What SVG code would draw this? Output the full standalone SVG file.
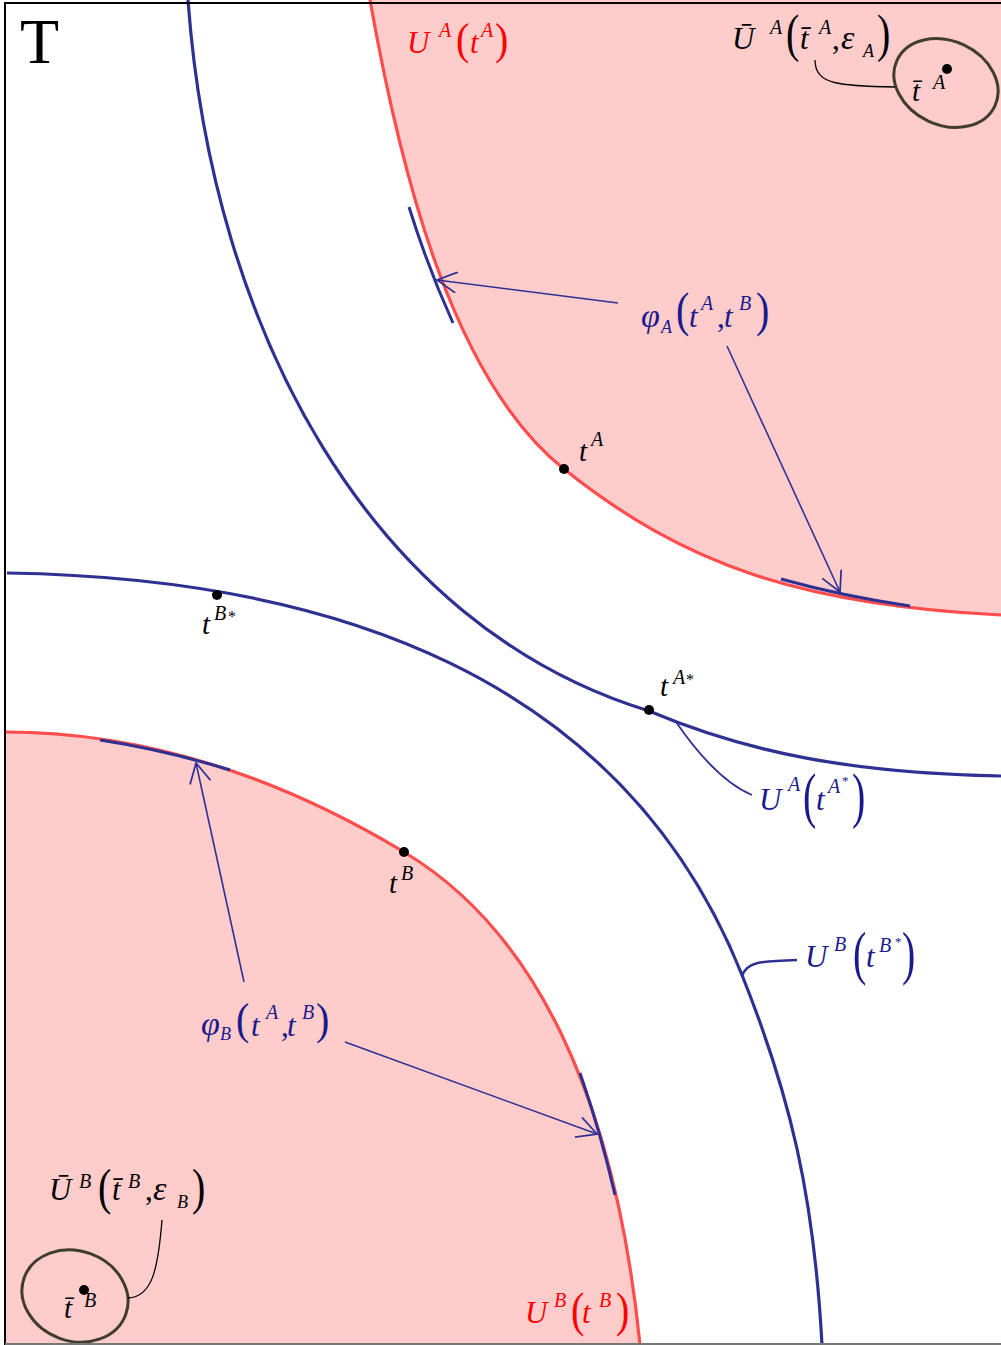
<svg xmlns="http://www.w3.org/2000/svg" width="1001" height="1345" viewBox="0 0 1001 1345">
<defs>
<style>
.m{font-family:"Liberation Serif","Times New Roman",serif;font-style:italic;font-size:31px}
.s{font-family:"Liberation Serif","Times New Roman",serif;font-style:italic;font-size:29px}
.sup{font-size:20px}
.sub{font-size:18px}
.gr{font-size:34px}
.up{font-style:normal}
.ast{font-style:normal;font-size:16px}
.par{font-family:"Liberation Serif","Times New Roman",serif;font-style:normal;font-size:40px}
.red{fill:#ff0000}
.blu{fill:#1a1a8c}
.blk{fill:#000}
.fillp{fill:#ffcccc;stroke:none}
.redc{fill:none;stroke:#ff4d4d;stroke-width:3.2}
.bluc{fill:none;stroke:#2e3192;stroke-width:3.2}
.tan{fill:none;stroke:#2e3192;stroke-width:3}
.arr{fill:none;stroke:#2e3192;stroke-width:1.6;marker-end:url(#oa)}
.lead{fill:none;stroke:#2e3192;stroke-width:1.8}
.leadk{fill:none;stroke:#000;stroke-width:1.3}
.ell{fill:none;stroke:#403d30;stroke-width:3}
.dot{fill:#000}
</style>
<marker id="oa" markerUnits="userSpaceOnUse" markerWidth="22" markerHeight="22" viewBox="0 0 20 20" refX="19" refY="10" orient="auto">
<path d="M1,0.5 L19,10 L1,19.5" fill="none" stroke="#2e3192" stroke-width="1.6"/>
</marker>
</defs>
<rect width="1001" height="1345" fill="#fff"/>

<g id="regionA">
<path class="fillp" d="M370,0 C402,180 454,381 564,469 C684,565 801,605 1001,615 L1001,0 Z"/>
<path class="redc" d="M370,0 C402,180 454,381 564,469 C684,565 801,605 1001,615"/>
</g>
<g id="regionB">
<path class="fillp" d="M5,732 C150,732 284,780 404,852 C534,930 615,1095 640,1345 L5,1345 Z"/>
<path class="redc" d="M5,732 C150,732 284,780 404,852 C534,930 615,1095 640,1345"/>
</g>
<g id="curveAstar">
<path class="bluc" d="M188,0 C212,330 370,626 649,711 C749,753 851,773 1001,776"/>
</g>
<g id="curveBstar">
<path class="bluc" d="M7,573 C330,578 622,675 742,975 C790,1095 814,1195 822,1345"/>
</g>
<g id="phiA-segments">
<path class="tan" d="M409,207 Q428,268 453,323"/>
<path class="tan" d="M781,579 Q842,596 910,606"/>
</g>
<g id="phiB-segments">
<path class="tan" d="M100,740 Q165,750 230,770"/>
<path class="tan" d="M580,1073 Q600,1130 615,1195"/>
</g>
<g id="ballA">
<ellipse class="ell" cx="946" cy="83" rx="54" ry="42" transform="rotate(25 946 83)"/>
<circle class="dot" cx="947" cy="69" r="5"/>
<text class="s blk"><tspan x="912" y="101">t̄</tspan><tspan class="sup" x="933" y="89">A</tspan></text>
</g>
<g id="ballB">
<ellipse class="ell" cx="75" cy="1296" rx="54" ry="45" transform="rotate(20 75 1296)"/>
<circle class="dot" cx="84" cy="1290" r="5"/>
<text class="s blk"><tspan x="64" y="1318">t̄</tspan><tspan class="sup" x="84" y="1307">B</tspan></text>
</g>

<g id="connectors">
<path class="arr" d="M618,303 L437,280"/>
<path class="arr" d="M727,346 L840,592"/>
<path class="arr" d="M244,982 L196,763"/>
<path class="arr" d="M345,1042 L597,1134"/>
<path class="lead" d="M676,722 Q716,780 752,795"/>
<path class="lead" style="stroke-width:2.5" d="M742,977 C745,962 760,961 797,960"/>
<path class="leadk" d="M815,60 C815,85 840,86 895,87"/>
<path class="leadk" d="M162,1220 C158,1270 152,1297 128,1298"/>
</g>

<g id="pointTA">
<circle class="dot" cx="564" cy="469" r="5"/>
<text class="s blk"><tspan x="579" y="461">t</tspan><tspan class="sup" x="591" y="446">A</tspan></text>
</g>
<g id="pointTAstar">
<circle class="dot" cx="649" cy="710" r="5"/>
<text class="s blk"><tspan x="660" y="696">t</tspan><tspan class="sup" x="673" y="684">A</tspan><tspan class="ast" x="686" y="685">*</tspan></text>
</g>
<g id="pointTBstar">
<circle class="dot" cx="217" cy="595" r="5"/>
<text class="s blk"><tspan x="202" y="634">t</tspan><tspan class="sup" x="214" y="620">B</tspan><tspan class="ast" x="228" y="622">*</tspan></text>
</g>
<g id="pointTB">
<circle class="dot" cx="404" cy="852" r="5"/>
<text class="s blk"><tspan x="389" y="893">t</tspan><tspan class="sup" x="401" y="880">B</tspan></text>
</g>

<g id="label-UA-tA">
<text class="m red"><tspan x="407" y="53">U</tspan><tspan class="sup" x="439" y="37">A</tspan><tspan x="470" y="53">t</tspan><tspan class="sup" x="481" y="37">A</tspan></text>
<text class="par red" transform="translate(456,54.4) scale(1,1.085)">(</text>
<text class="par red" transform="translate(495,54.4) scale(1,1.085)">)</text>
</g>
<g id="label-UbarA">
<text class="m blk"><tspan x="732" y="49">Ū</tspan><tspan class="sup" x="770" y="34">A</tspan><tspan x="800" y="49">t̄</tspan><tspan class="sup" x="819" y="34">A</tspan><tspan class="up" x="832" y="49">,</tspan><tspan class="gr" x="841" y="49">ε</tspan><tspan class="sub" x="863" y="57">A</tspan></text>
<text class="par blk" transform="translate(786,51.2) scale(1,1.32)">(</text>
<text class="par blk" transform="translate(877,51.2) scale(1,1.32)">)</text>
</g>
<g id="label-phiA">
<text class="m blu"><tspan class="gr" x="641" y="327">φ</tspan><tspan class="sub" x="661" y="333">A</tspan><tspan x="689" y="327">t</tspan><tspan class="sup" x="701" y="310">A</tspan><tspan class="up" x="717" y="327">,</tspan><tspan x="724" y="327">t</tspan><tspan class="sup" x="739" y="310">B</tspan></text>
<text class="par blu" transform="translate(676,326.3) scale(1,1.23)">(</text>
<text class="par blu" transform="translate(756,326.3) scale(1,1.23)">)</text>
</g>
<g id="label-UA-tAstar">
<text class="m blu"><tspan x="759" y="810">U</tspan><tspan class="sup" x="788" y="791">A</tspan><tspan x="816" y="810">t</tspan><tspan class="sup" x="828" y="793">A</tspan><tspan class="ast" style="font-size:13px" x="842" y="785">*</tspan></text>
<text class="par blu" transform="translate(803,816.2) scale(1,1.52)">(</text>
<text class="par blu" transform="translate(852,816.2) scale(1,1.52)">)</text>
</g>
<g id="label-UB-tBstar">
<text class="m blu"><tspan x="805" y="967">U</tspan><tspan class="sup" x="834" y="951">B</tspan><tspan x="866" y="967">t</tspan><tspan class="sup" x="879" y="952">B</tspan><tspan class="ast" style="font-size:13px" x="895" y="946">*</tspan></text>
<text class="par blu" transform="translate(853,972.7) scale(1,1.47)">(</text>
<text class="par blu" transform="translate(902,972.7) scale(1,1.47)">)</text>
</g>
<g id="label-phiB">
<text class="m blu"><tspan class="gr" x="201" y="1035">φ</tspan><tspan class="sub" x="220" y="1040">B</tspan><tspan x="251" y="1036">t</tspan><tspan class="sup" x="266" y="1019">A</tspan><tspan class="up" x="281" y="1036">,</tspan><tspan x="287" y="1036">t</tspan><tspan class="sup" x="302" y="1019">B</tspan></text>
<text class="par blu" transform="translate(236,1034.4) scale(1,1.085)">(</text>
<text class="par blu" transform="translate(316,1034.4) scale(1,1.085)">)</text>
</g>
<g id="label-UbarB">
<text class="m blk"><tspan x="49" y="1200">Ū</tspan><tspan class="sup" x="79" y="1188">B</tspan><tspan x="112" y="1200">t̄</tspan><tspan class="sup" x="128" y="1188">B</tspan><tspan class="up" x="145" y="1200">,</tspan><tspan class="gr" x="153" y="1200">ε</tspan><tspan class="sub" x="177" y="1208">B</tspan></text>
<text class="par blk" transform="translate(98,1204.1) scale(1,1.26)">(</text>
<text class="par blk" transform="translate(192,1204.1) scale(1,1.26)">)</text>
</g>
<g id="label-UB-tB">
<text class="m red"><tspan x="525" y="1323">U</tspan><tspan class="sup" x="554" y="1307">B</tspan><tspan x="582" y="1323">t</tspan><tspan class="sup" x="599" y="1307">B</tspan></text>
<text class="par red" transform="translate(571,1326.3) scale(1,1.23)">(</text>
<text class="par red" transform="translate(616,1326.3) scale(1,1.23)">)</text>
</g>
<g id="title">
<text x="20" y="63" style="font-family:'Liberation Serif','Times New Roman',serif;font-size:64px" fill="#000">T</text>
</g>
<g id="frame">
<line x1="5" y1="3" x2="1001" y2="3" stroke="#000" stroke-width="2"/>
<line x1="5" y1="2" x2="5" y2="1345" stroke="#000" stroke-width="2"/>
<line x1="5" y1="1344" x2="1001" y2="1344" stroke="#777" stroke-width="2"/>
</g>
</svg>
